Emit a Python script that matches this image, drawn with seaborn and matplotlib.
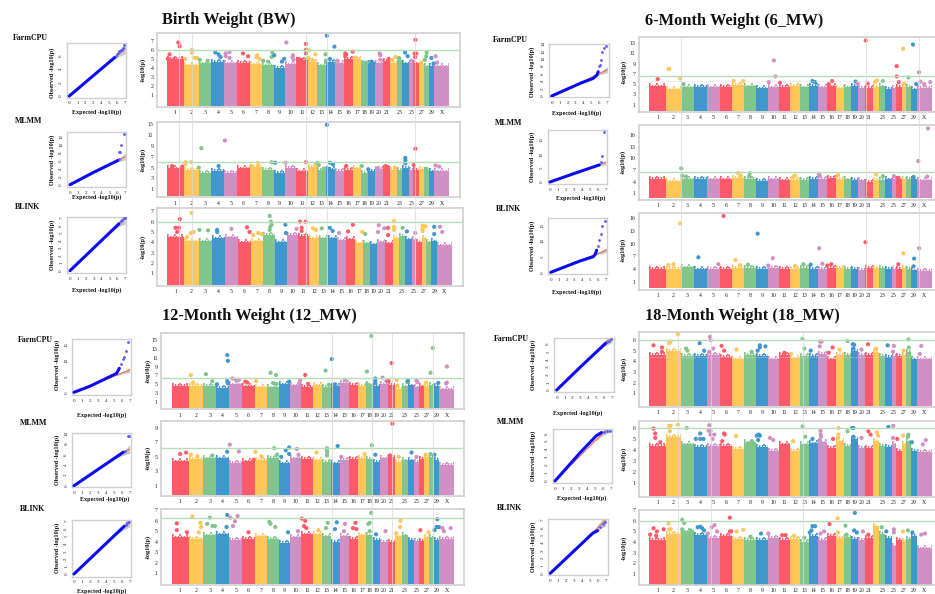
import pandas as pd
import matplotlib
matplotlib.use('Agg')
import matplotlib.pyplot as plt
import seaborn as sns

W, H = 935, 594

# chromosome lengths, Mb, 29 autosomes + X
chrom_size = [158,137,121,120,121,119,112,113,105,103,106,91,84,84,85,81,75,66,64,72,71,61,52,62,42,51,45,46,51,139]
chrom_name = ['1','2','3','4','5','6','7','8','9','10','11','12','13','14','15','16','17','18','19','20','21','','23','','25','','27','','29','X']
chrom_cols = ['#ff5a69', '#ffc658', '#80c68c', '#4096cd', '#d28fc3']

# solid height of the SNP cloud per chromosome
bw_farm_top = [5.0,4.3,4.5,4.7,4.5,4.6,4.4,4.3,4.0,4.4,4.9,4.7,4.3,4.7,4.5,5.0,5.0,4.5,4.5,4.5,4.8,4.6,4.9,4.5,4.6,4.5,4.4,4.2,4.2,4.2]
bw_mlmm_top = [4.9,4.6,4.0,4.4,4.1,4.9,5.2,4.6,4.1,5.0,4.3,5.2,4.6,4.7,4.4,4.6,4.9,4.0,4.4,4.8,5.0,4.6,4.6,5.0,4.6,4.6,4.8,4.6,4.3,4.3]
bw_blink_top = [4.5,4.1,4.1,4.4,4.5,4.0,4.1,4.7,4.0,4.7,4.6,4.4,4.4,4.4,4.2,4.3,3.9,3.9,3.8,4.0,3.9,4.4,4.6,4.3,4.3,4.0,4.4,4.0,4.1,3.7]
m6_farm_top = [4.6,4.0,4.4,4.5,4.4,4.5,4.9,4.6,4.2,4.4,4.5,4.7,4.4,4.7,4.4,4.6,4.2,4.4,4.7,4.3,4.3,4.5,4.6,4.1,4.2,4.5,4.5,4.5,4.0,4.3]
m6_mlmm_top = [4.7,4.1,4.6,4.7,4.6,4.6,5.0,4.8,4.2,4.6,4.3,4.5,4.5,4.7,4.7,5.0,4.8,4.6,4.5,4.3,4.0,4.5,4.4,4.6,4.7,4.6,4.7,4.7,4.6,4.3]
m6_blink_top = [4.2,4.2,4.5,4.0,4.2,4.2,4.4,4.4,4.1,4.4,4.1,4.0,4.3,4.1,4.2,4.4,4.3,4.2,4.1,3.9,4.4,4.3,4.3,4.1,4.0,4.1,4.4,4.2,3.8,3.7]
m12_farm_top = [4.6,4.6,4.7,4.2,5.0,4.5,4.3,4.3,5.0,4.8,4.4,4.8,4.4,4.5,5.3,4.9,4.7,5.0,4.7,5.0,4.9,4.0,4.5,4.8,4.3,4.5,4.6,4.8,4.6,3.9]
m12_mlmm_top = [4.4,4.7,4.8,4.8,4.2,4.4,4.6,4.9,4.1,4.8,4.7,4.5,4.3,4.1,4.6,4.7,4.9,4.7,4.3,4.8,5.0,4.3,4.5,4.5,4.3,4.7,5.0,5.0,4.6,3.9]
m12_blink_top = [4.4,4.3,4.6,4.7,4.2,4.3,4.5,4.3,3.9,4.4,4.7,4.7,4.5,4.0,4.5,4.3,4.6,4.6,4.2,4.0,4.0,4.5,4.6,4.2,4.1,4.1,4.4,4.4,4.2,4.3]
m18_farm_top = [4.6,5.0,4.5,4.5,4.6,4.4,4.2,4.6,4.5,4.2,4.6,4.3,4.5,4.5,4.7,4.2,4.6,4.6,5.0,4.6,4.6,4.9,4.5,4.4,4.5,4.5,4.6,4.9,4.2,4.2]
m18_mlmm_top = [4.4,5.2,4.5,4.3,4.4,4.4,4.1,4.7,4.3,3.9,4.5,3.9,4.5,4.6,4.7,4.2,4.8,4.4,5.0,4.2,4.2,4.8,4.4,4.3,4.5,3.9,4.5,4.8,3.9,3.8]
m18_blink_top = [4.2,4.8,5.0,4.7,4.4,4.6,4.3,4.2,4.2,4.4,4.2,4.3,4.0,4.6,4.2,4.6,4.4,4.5,4.3,4.2,4.4,5.5,4.8,4.4,3.6,4.2,4.1,4.3,4.6,3.4]

# single SNPs above the cloud: (chromosome, place along it, -log10 p)
bw_farm_hits = [(1,.67,6.8),(1,.75,6.4),(1,.15,5.5),(1,.05,5.0),(1,.4,4.9),(2,.55,6.0),(2,.55,5.7),(2,.75,5.1),(2,.1,5.0),(2,.9,5.1),(3,.1,4.9),(3,.7,4.8),(4,.3,5.7),(4,.55,5.5),(4,.7,5.2),(5,.1,5.6),(5,.1,5.3),(5,.4,5.75),(5,.4,5.1),(6,.45,5.6),(6,.85,5.3),(7,.6,5.4),(7,.55,5.2),(7,.8,5.0),(8,.1,4.8),(8,.5,4.7),(8,.85,5.7),(8,.8,5.2),(9,.02,5.4),(9,.9,5.0),(9,.7,4.7),(10,.1,6.8),(10,.7,5.4),(10,.65,5.2),(10,.75,4.9),(11,.85,6.65),(11,.85,6.0),(11,.85,5.6),(11,.2,5.0),(11,.4,4.9),(12,.15,5.95),(12,.8,5.5),(12,.1,5.1),(12,.5,4.9),(13,.9,5.5),(13,.95,4.8),(14,.05,7.55),(14,.9,6.35),(14,.4,5.0),(15,.25,4.8),(16,.1,5.6),(16,.2,5.5),(16,.1,5.3),(16,.95,5.8),(17,.4,5.1),(18,.3,4.6),(18,.8,4.6),(19,.5,4.7),(19,.8,4.5),(20,.6,5.6),(20,.7,5.4),(20,.7,4.9),(21,.8,5.0),(22,.8,5.2),(22,.3,4.9),(23,.4,5.1),(24,.4,5.7),(24,.8,5.3),(25,.6,4.8),(26,.35,7.1),(26,.2,5.6),(26,.5,5.6),(26,.3,5.2),(27,.5,4.6),(28,.2,4.9),(28,.6,5.7),(28,.5,5.3),(29,.5,5.1),(29,.9,4.5),(30,.1,5.3),(30,.2,4.6)]
bw_mlmm_hits = [(3,.22,8.6),(5,.05,10.0),(14,.05,12.9),(26,.35,8.5),(24,.45,6.8),(24,.45,6.3),(24,.45,5.8),(1,.3,5.3),(1,.9,5.2),(2,.1,6.0),(2,.5,6.0),(2,.1,5.6),(3,.02,5.0),(4,.55,5.3),(7,.1,5.3),(7,.65,5.9),(7,.7,5.3),(8,.8,6.0),(9,.1,5.9),(10,.02,5.9),(11,.85,6.0),(12,.8,5.5),(13,.02,5.9),(13,.15,5.5),(13,.7,4.8),(14,.4,5.9),(14,.75,5.6),(14,.3,4.8),(16,.2,5.3),(18,.1,5.3),(19,.02,4.7),(20,.4,4.9),(21,.4,5.3),(21,.7,5.1),(22,.7,5.0),(26,.05,5.5),(30,.1,5.4),(30,.35,5.2),(28,.5,4.8)]
bw_blink_hits = [(1,.75,6.25),(1,.5,5.4),(1,.7,5.4),(1,.6,5.0),(2,.5,6.85),(2,.45,4.9),(2,.65,5.0),(2,.2,4.5),(3,.05,5.2),(3,.7,5.15),(4,.4,5.2),(4,.4,5.0),(5,.5,5.3),(6,.7,5.45),(6,.9,5.0),(7,.2,4.7),(7,.6,4.9),(7,.9,4.8),(8,.55,6.55),(8,.65,6.0),(8,.6,5.5),(8,.55,5.2),(8,.7,5.7),(9,.9,5.7),(9,.95,4.9),(10,.9,5.3),(11,.2,6.0),(11,.7,6.0),(11,.35,5.4),(11,.35,5.1),(12,.4,5.35),(12,.7,5.2),(13,.3,5.35),(14,.2,5.4),(14,.5,5.1),(15,.2,4.9),(16,.2,5.05),(16,.75,5.7),(17,.9,5.0),(18,.3,4.8),(20,.2,5.65),(20,.1,5.0),(20,.9,5.35),(21,.4,5.4),(21,.4,4.7),(22,.2,6.05),(22,.2,5.5),(22,.2,5.2),(23,.6,5.4),(24,.3,5.05),(25,.8,4.9),(27,.2,5.6),(27,.2,5.3),(27,.2,5.1),(27,.8,5.55),(29,.5,4.8),(29,.5,5.5),(30,.2,5.5),(30,.35,5.0)]
m6_farm_hits = [(1,.5,6.0),(2,.15,7.95),(2,.2,7.95),(2,.95,6.1),(3,.2,5.0),(7,.1,5.6),(7,.9,5.6),(10,.1,5.4),(10,.55,9.6),(10,.7,6.5),(11,.1,5.3),(14,.4,5.6),(14,.7,5.4),(16,.2,5.0),(16,.6,5.6),(19,.7,5.5),(20,.02,5.1),(21,.05,13.5),(21,.3,5.1),(22,.3,5.4),(22,.6,5.7),(23,.6,5.6),(26,.1,8.5),(26,.1,6.5),(26,.5,5.4),(27,.3,11.9),(28,.4,6.3),(27,.6,5.1),(29,.3,12.7),(29,.9,5.0),(30,.15,7.3),(30,.25,5.5),(30,.5,5.0),(30,.9,5.4)]
m6_mlmm_hits = [(3,.02,7.4),(3,.1,5.5),(3,.4,5.3),(7,.5,6.2),(7,.7,5.5),(8,.45,6.2),(8,.4,5.5),(12,.5,5.6),(12,.3,5.2),(15,.1,6.0),(15,.2,5.5),(17,.3,5.7),(22,.5,5.9),(23,.6,5.4),(25,.5,5.4),(26,.4,5.0),(29,.4,5.2),(30,.1,9.3),(30,.75,17.7),(30,.7,5.3)]
m6_blink_hits = [(2,.15,5.0),(2,.5,5.2),(2,.95,14.7),(4,.35,6.8),(5,.9,5.2),(6,.3,16.4),(7,.25,6.2),(7,.65,5.0),(8,.3,5.1),(9,.1,12.3),(10,.05,4.9),(10,.45,6.6),(12,.5,4.8),(13,.4,5.2),(14,.2,5.1),(15,.15,8.9),(15,.5,5.3),(16,.05,4.9),(16,.5,5.2),(21,.02,10.3),(26,.4,5.2),(27,.35,7.7),(29,.5,6.5),(29,.4,4.7),(30,.15,8.9)]
m12_farm_hits = [(2,.15,7.1),(2,.3,5.4),(3,.2,7.3),(3,.7,5.7),(4,.05,5.0),(4,.85,11.6),(4,.9,10.3),(4,.85,5.7),(4,.9,5.2),(5,.25,6.3),(5,.5,6.0),(5,.75,6.0),(6,.25,5.6),(6,.4,5.4),(7,.1,5.7),(8,.3,7.6),(8,.75,7.1),(8,.5,5.3),(8,.8,5.1),(9,.9,5.6),(10,.9,5.9),(10,.85,5.2),(11,.35,7.1),(11,.6,5.1),(13,.35,8.1),(13,.7,4.9),(14,.05,10.7),(14,.4,5.0),(15,.5,6.0),(18,.1,7.9),(18,.1,5.0),(18,.75,15.9),(19,.3,6.3),(19,.3,5.8),(19,.3,5.3),(20,.3,6.5),(20,.8,5.7),(21,.5,9.8),(21,.1,5.7),(22,.2,6.0),(22,.3,4.7),(23,.9,5.5),(24,.05,5.8),(25,.5,5.8),(25,.7,5.5),(27,.4,5.4),(28,.3,7.6),(28,.75,13.2),(29,.8,5.3),(30,.5,9.0),(30,.5,5.4),(30,.45,5.2)]
m12_mlmm_hits = [(1,.5,5.4),(1,.85,5.6),(2,.15,5.3),(2,.6,5.1),(3,.7,5.2),(4,.85,5.7),(5,.05,6.7),(5,.75,5.75),(6,.9,4.6),(7,.05,5.7),(7,.55,5.1),(8,.6,6.2),(8,.85,5.3),(9,.6,5.9),(9,.2,5.0),(9,.9,6.3),(9,.9,5.4),(10,.6,6.1),(10,.75,5.3),(12,.4,5.6),(13,.5,6.2),(13,.5,5.9),(13,.55,5.6),(13,.5,5.2),(14,.7,6.5),(15,.1,5.0),(17,.8,5.4),(18,.8,6.6),(19,.3,5.3),(21,.6,9.6),(21,.3,5.2),(22,.5,5.0),(24,.6,5.6),(25,.5,5.0),(27,.3,5.3),(28,.3,5.4),(29,.1,5.3)]
m12_blink_hits = [(1,.3,5.75),(1,.3,5.1),(1,.9,4.9),(2,.25,6.4),(2,.8,5.8),(2,.85,5.4),(2,.7,4.9),(3,.5,6.3),(3,.3,5.7),(3,.7,5.5),(3,.9,5.5),(4,.85,6.55),(4,.8,5.4),(5,.1,6.3),(5,.65,6.45),(5,.45,5.95),(5,.3,5.5),(6,.5,4.9),(8,.2,5.9),(8,.3,5.7),(8,.7,5.4),(9,.8,4.9),(10,.7,5.0),(11,.05,6.2),(11,.35,6.0),(11,.25,5.5),(11,.45,5.3),(12,.6,5.1),(13,.6,5.8),(13,.4,5.3),(14,.6,5.85),(14,.4,5.2),(15,.5,5.7),(15,.4,5.0),(16,.4,5.3),(16,.7,5.8),(16,.8,5.2),(18,.3,5.7),(18,.5,5.8),(18,.7,6.75),(18,.5,5.0),(19,.4,4.7),(20,.7,5.0),(22,.75,6.0),(22,.7,5.4),(22,.1,4.8),(26,.3,5.1),(27,.9,4.9),(29,.1,5.1),(29,.6,6.15),(29,.5,5.4),(29,.9,5.4),(30,.2,5.3),(30,.3,5.0),(30,.75,5.3)]
m18_farm_hits = [(1,.25,5.5),(1,.75,5.3),(1,.75,4.9),(2,.3,5.85),(2,.2,5.7),(2,.8,6.55),(3,.4,5.2),(3,.5,5.0),(4,.45,5.7),(4,.8,5.0),(5,.25,6.3),(5,.3,6.0),(5,.5,5.2),(5,.2,4.9),(6,.15,5.45),(6,.35,5.0),(7,.35,5.1),(8,.6,4.9),(9,.3,5.5),(9,.3,5.3),(9,.8,5.4),(9,.1,5.0),(11,.5,4.8),(12,.1,4.7),(13,.3,6.1),(13,.5,5.2),(14,.2,5.0),(15,.25,5.85),(15,.4,5.85),(15,.2,5.4),(16,.2,4.8),(16,.65,5.3),(17,.5,5.1),(18,.55,5.9),(19,.3,5.6),(19,.5,5.55),(19,.4,5.2),(20,.5,5.1),(21,.35,5.6),(22,.5,5.2),(24,.4,5.5),(25,.5,5.45),(25,.3,4.9),(27,.4,5.0),(28,.4,6.05),(28,.5,5.3),(30,.3,5.45),(30,.2,4.7)]
m18_mlmm_hits = [(1,.25,5.95),(1,.35,5.5),(1,.35,5.1),(1,.65,4.7),(2,.2,6.2),(2,.3,6.2),(2,.25,5.7),(2,.8,6.3),(3,.45,6.0),(4,.5,5.5),(4,.15,5.0),(4,.5,5.0),(4,.75,5.0),(5,.2,6.25),(5,.15,5.75),(5,.3,5.75),(5,.3,5.4),(5,.6,5.4),(5,.45,5.0),(6,.4,5.4),(6,.35,5.5),(6,.2,4.8),(7,.3,5.25),(8,.6,4.8),(9,.02,5.3),(9,.2,5.4),(9,.3,5.3),(9,.15,4.9),(10,.2,5.1),(10,.5,4.9),(12,.3,4.8),(13,.3,6.15),(13,.6,5.2),(14,.4,5.0),(15,.3,5.75),(15,.3,5.4),(15,.35,5.2),(15,.2,4.9),(16,.7,5.0),(17,.35,6.0),(17,.35,5.4),(17,.3,5.1),(18,.55,5.7),(19,.2,6.0),(19,.4,6.0),(19,.4,5.2),(20,.5,5.1),(21,.4,5.7),(21,.7,5.4),(22,.6,5.6),(22,.8,5.3),(24,.5,6.1),(25,.35,6.2),(25,.3,5.1),(26,.2,5.0),(27,.3,5.3),(28,.4,5.4),(28,.3,5.2),(29,.1,4.7),(30,.6,4.9),(30,.4,4.5)]
m18_blink_hits = [(1,.25,5.3),(1,.05,4.7),(1,.45,5.0),(1,.85,5.2),(1,.4,4.6),(2,.15,5.75),(2,.2,5.2),(2,.3,5.2),(2,.8,4.6),(3,.1,6.1),(3,.25,5.8),(3,.1,5.2),(3,.75,5.1),(4,.3,5.4),(4,.5,5.45),(4,.65,5.3),(4,.8,5.1),(5,.6,5.6),(5,.8,5.0),(5,.4,5.4),(5,.1,4.8),(6,.8,6.3),(6,.8,5.0),(6,.9,5.0),(7,.35,5.0),(7,.9,5.15),(8,.5,4.5),(9,.4,4.8),(10,.05,4.8),(11,.3,4.65),(11,.6,4.65),(12,.4,4.6),(13,.5,4.4),(14,.1,4.9),(14,.4,5.5),(14,.7,5.5),(14,.3,5.1),(15,.3,4.8),(15,.7,5.0),(16,.3,5.7),(17,.25,6.25),(17,.3,4.9),(18,.25,5.55),(18,.4,4.7),(19,.6,6.75),(19,.5,5.1),(19,.9,4.9),(20,.7,5.0),(21,.4,4.7),(22,.3,4.9),(23,.4,5.4),(24,.2,5.0),(25,.5,4.9),(25,.5,5.2),(27,.3,5.0),(28,.3,5.1),(29,.2,4.9),(30,.3,4.7),(30,.55,4.8)]

# QQ curves: main line knots and the sparse tail, (expected, observed)
bw_farm_qq = [(0,0),(2,2),(4,4),(5.7,5.7)]
bw_farm_tail = [(5.8,5.9),(6,6.2),(6.1,6.4),(6.2,6.6),(6.3,6.7),(6.5,6.75),(6.6,6.8),(6.7,7.1),(6.85,7.5)]
bw_mlmm_qq = [(0,0),(3,3.1),(6.1,6.1)]
bw_mlmm_tail = [(6.2,6.5),(6.3,8.25),(6.15,8.2),(6.5,9.9),(6.8,12.7)]
bw_blink_qq = [(0,0),(6.2,6.2)]
bw_blink_tail = [(6.4,6.5),(6.6,6.7),(6.8,6.9),(6.9,7)]
m6_farm_qq = [(0,0),(3.6,3.4),(5.2,4.7),(5.7,5.6),(5.85,6.5)]
m6_farm_tail = [(5.98,7.9),(6.1,8.2),(6.2,9.6),(6.36,11.9),(6.6,12.8),(6.8,13.5)]
m6_mlmm_qq = [(0,0),(3,3),(6.2,6.1)]
m6_mlmm_tail = [(6.35,7),(6.5,9.3),(6.78,18)]
m6_blink_qq = [(0,0),(3.7,3.6),(5.35,4.95),(5.55,5.5),(5.8,7)]
m6_blink_tail = [(6,8.4),(6.1,10.2),(6.3,12.3),(6.5,14.7),(6.8,16.3)]
m12_farm_qq = [(0,0),(2,1.9),(4.1,4.4),(5.35,5.9),(5.7,7.5)]
m12_farm_tail = [(5.85,9),(6.1,10.3),(6.3,10.9),(6.5,13),(6.8,15.8)]
m12_mlmm_qq = [(0,0),(3,3.1),(6.2,6.4)]
m12_mlmm_tail = [(6.4,6.6),(6.75,9.5),(6.85,9.5)]
m12_blink_qq = [(0,0),(6.3,6.3)]
m12_blink_tail = [(6.5,6.5),(6.7,6.7),(6.9,6.9)]
m18_farm_qq = [(0,0),(3,3),(6.2,6.1)]
m18_farm_tail = [(6.4,6.3),(6.6,6.4),(6.9,6.6)]
m18_mlmm_qq = [(0,0),(3.1,3.5),(5.2,5.7),(5.85,6.1)]
m18_mlmm_tail = [(6.2,6.2),(6.5,6.25),(6.9,6.3)]
m18_blink_qq = [(0,0),(5.4,5.3),(6,5.6)]
m18_blink_tail = [(6.3,6.1),(6.6,6.5),(6.9,6.8)]

# expected-line confidence band
cone_exp = [5.0, 6.0, 7.0]
cone_lo = [5.0, 5.7, 6.2]
cone_hi = [5.0, 6.3, 7.8]

# vertical marker SNPs shared by a trait: (chromosome, place along it)
bw_marks = [(1,.73),(2,.55),(11,.84),(14,.03),(26,.25)]
m6_marks = [(3,.03),(21,.05),(30,.17)]
m12_marks = [(14,.05),(18,.75),(21,.55),(28,.75)]
m18_marks = [(2,.8),(5,.36),(13,.39)]

sns.set_theme(style='white')
plt.rcParams['font.family'] = ['Liberation Serif', 'DejaVu Serif']

fig = plt.figure(figsize=(W / 100, H / 100), dpi=100)


def px_axes(l, t, r, b):
    return fig.add_axes([l / W, 1 - b / H, (r - l) / W, (b - t) / H])


def ftext(x, y, s, size, **kw):
    fig.text(x / W, 1 - y / H, s, fontsize=size, fontweight='bold', color='#111111',
             ha=kw.pop('ha', 'center'), va='center', **kw)


def style_frame(ax, col='#cfcfcf', lw=1.2):
    for sp in ax.spines.values():
        sp.set_visible(True)
        sp.set_color(col)
        sp.set_linewidth(lw)


def genome_pos(chrom, frac):
    return sum(chrom_size[:chrom - 1]) + frac * chrom_size[chrom - 1]


def manhattan(top, hits, frame, xpx, y_a, y_b, ticks, base_px, line=6.0, dotted=None):
    l, t, r, b = frame
    ax = px_axes(l, t, r, b)
    total = sum(chrom_size)
    per_px = total / (xpx[1] - xpx[0])
    ax.set_xlim((l - xpx[0]) * per_px, (r - xpx[0]) * per_px)
    per_unit = (y_b[1] - y_a[1]) / (y_a[0] - y_b[0])
    to_val = lambda p: y_b[0] + (y_b[1] - p) / per_unit
    ax.set_ylim(to_val(b), to_val(t))
    base = to_val(base_px)
    left = [sum(chrom_size[:i]) for i in range(30)]
    right = [a + s for a, s in zip(left, chrom_size)]
    cols = [chrom_cols[i % 5] for i in range(30)]
    ax.bar(left, [h - base for h in top], width=chrom_size, bottom=base, align='edge', color=cols, linewidth=0, zorder=2)
    # beaded rows along the top so the cloud edge reads as dots, not a flat bar
    ax.hlines([h + 0.6 / per_unit for h in top], left, right, colors=cols, lw=1.5,
              linestyles=[(0, (0.7, 0.7))], zorder=2)
    ax.hlines([h + 2.0 / per_unit for h in top], left, right, colors=cols, lw=1.5,
              linestyles=[(0, (0.8, 2.6))], zorder=2)
    df = pd.DataFrame(hits, columns=['chrom', 'frac', 'val'])
    df['pos'] = [genome_pos(c, f) for c, f in zip(df['chrom'], df['frac'])]
    df['group'] = (df['chrom'] - 1) % 5
    sns.scatterplot(data=df, x='pos', y='val', hue='group', palette=chrom_cols, legend=False, s=9,
                    linewidth=0, ax=ax, zorder=3)
    if line is not None:
        ax.axhline(line, color='#b4deb6', lw=1.0, zorder=4)
    if dotted is not None:
        ax.axhline(dotted, color='#d8d8d8', lw=0.6, ls=':', zorder=4)
    ax.set_xticks([left[i] + chrom_size[i] / 2 for i in range(30)])
    ax.set_xticklabels(chrom_name)
    ax.set_yticks(ticks)
    ax.set_yticklabels([str(v) for v in ticks])
    ax.tick_params(axis='x', length=1, width=0.4, color='#999999', labelsize=4.2, pad=1.5, labelcolor='#222222')
    ax.tick_params(axis='y', length=0, labelsize=4.2, pad=2.5, labelcolor='#222222')
    ax.set_xlabel('')
    ax.set_ylabel('')
    style_frame(ax)
    return ax


def qq(knots, tail, frame, x0, x7, y_a, y_b, ticks):
    l, t, r, b = frame
    ax = px_axes(l, t, r, b)
    ppx = (x7 - x0) / 7
    ax.set_xlim((l - x0) / ppx, (r - x0) / ppx)
    per_unit = (y_b[1] - y_a[1]) / (y_a[0] - y_b[0])
    to_val = lambda p: y_b[0] + (y_b[1] - p) / per_unit
    ax.set_ylim(to_val(b), to_val(t))
    ax.fill_between(cone_exp, cone_lo, cone_hi, color='#c9c9c9', lw=0, zorder=1)
    sns.lineplot(x=[0, 7], y=[0, 7], color='#ef6a5e', lw=0.8, ax=ax, zorder=2)
    kn = pd.DataFrame(knots, columns=['e', 'o'])
    sns.lineplot(data=kn, x='e', y='o', color='#0a0af5', lw=2.2, ax=ax, zorder=3, sort=False, solid_capstyle='round')
    tl = pd.DataFrame(tail, columns=['e', 'o'])
    sns.scatterplot(data=tl, x='e', y='o', color='#5a5af5', s=4, linewidth=0, ax=ax, zorder=4)
    ax.set_xticks(range(8))
    ax.set_yticks(ticks)
    ax.tick_params(length=1.5, width=0.4, color='#777777', labelsize=3.6, pad=1.2, labelcolor='#222222')
    plt.setp(ax.get_yticklabels(), rotation=90, va='center')
    ax.set_xlabel('')
    ax.set_ylabel('')
    style_frame(ax, lw=1.0)
    return ax


def marks(spots, top_px, bottom_px, xpx):
    ax = px_axes(xpx[0], top_px, xpx[1], bottom_px)
    ax.set_xlim(0, sum(chrom_size))
    ax.axis('off')
    ax.patch.set_alpha(0)
    ax.set_zorder(10)
    for c, f in spots:
        ax.axvline(genome_pos(c, f), color='#d9d9d9', lw=0.8, alpha=0.7)


# Birth weight
bw_x = (167, 449)
manhattan(bw_farm_top, bw_farm_hits, (157, 33, 460, 107), bw_x, (7, 40.7), (1, 95.3), [1,2,3,4,5,6,7], 106)
manhattan(bw_mlmm_top, bw_mlmm_hits, (157, 121.7, 460, 197.3), bw_x, (13, 124.3), (1, 189.3), [3,5,7,9,11,13,1], 196)
manhattan(bw_blink_top, bw_blink_hits, (157, 208, 463, 286), (167, 452), (7, 211.3), (1, 273.3), [1,2,3,4,5,6,7], 285)
qq(bw_farm_qq, bw_farm_tail, (67, 43.3, 126.3, 97.7), 69.3, 125.3, (6, 55.3), (0, 96), [0,2,4,6])
qq(bw_mlmm_qq, bw_mlmm_tail, (67, 132.3, 126, 187.3), 70, 125.3, (12, 136.7), (0, 184.7), [0,2,4,6,8,10,12])
qq(bw_blink_qq, bw_blink_tail, (67, 217.3, 126, 273.3), 70, 125.3, (7, 217.7), (0, 270.7), [0,1,2,3,4,5,6,7])
marks(bw_marks, 33, 286, bw_x)

# 6-month weight
m6_x = (649.3, 931.7)
manhattan(m6_farm_top, m6_farm_hits, (639, 37.3, 936, 111.7), m6_x, (13, 43), (1, 104.7), [1,3,5,7,9,11,13], 111, line=6.5, dotted=5.55)
manhattan(m6_mlmm_top, m6_mlmm_hits, (639, 125, 936, 200), m6_x, (16, 135), (1, 193.3), [1,4,7,10,13,16], 198, line=6.4)
manhattan(m6_blink_top, m6_blink_hits, (639, 213.3, 936, 290), m6_x, (16, 217.7), (1, 282.3), [1,4,7,10,13,16], 288, line=None)
qq(m6_farm_qq, m6_farm_tail, (549, 43.7, 608.7, 97.3), 551.7, 607.3, (14, 43.7), (0, 96), [0,2,4,6,8,10,12,14])
qq(m6_mlmm_qq, m6_mlmm_tail, (547.7, 130, 606.7, 184), 550, 605.7, (15, 140), (0, 182), [0,5,10,15])
qq(m6_blink_qq, m6_blink_tail, (548.3, 218.3, 607, 274), 550.7, 606.3, (15, 225), (0, 272.3), [0,5,10,15])
marks(m6_marks, 37, 290, m6_x)

# 12-month weight
m12_x = (171.7, 454.3)
manhattan(m12_farm_top, m12_farm_hits, (161.3, 333.3, 464.3, 409.3), m12_x, (15, 340), (1, 402), [1,3,5,7,9,11,13,15], 407.7, line=6.35)
manhattan(m12_mlmm_top, m12_mlmm_hits, (161.3, 420.7, 464.3, 495.7), m12_x, (9, 428), (1, 485.7), [1,3,5,7,9], 495, line=6.2)
manhattan(m12_blink_top, m12_blink_hits, (161.3, 509.3, 464.3, 585), m12_x, (7, 510.3), (1, 573), [1,2,3,4,5,6,7], 584, line=6.3)
qq(m12_farm_qq, m12_farm_tail, (72, 339.3, 131, 395), 74, 129.7, (15, 344.3), (0, 392.3), [0,5,10,15])
qq(m12_mlmm_qq, m12_mlmm_tail, (72, 433.3, 131, 487.3), 74, 129.7, (10, 432.3), (0, 485.7), [0,2,4,6,8,10])
qq(m12_blink_qq, m12_blink_tail, (72, 520, 131, 576.7), 74, 129.7, (7, 521), (0, 574), [0,1,2,3,4,5,6,7])
marks(m12_marks, 333, 585, m12_x)

# 18-month weight
manhattan(m18_farm_top, m18_farm_hits, (639.3, 331.7, 936, 406.7), m6_x, (6, 340), (1, 393.3), [1,2,3,4,5,6], 405.7, dotted=4.4)
manhattan(m18_mlmm_top, m18_mlmm_hits, (639.3, 421, 936, 497), m6_x, (6, 428), (1, 482.7), [1,2,3,4,5,6], 496)
manhattan(m18_blink_top, m18_blink_hits, (639.3, 510, 936, 585), m6_x, (7, 510.3), (1, 573.7), [1,2,3,4,5,6,7], 584.5)
qq(m18_farm_qq, m18_farm_tail, (554, 338.3, 613.7, 392.3), 556.7, 612, (6, 344), (0, 390), [0,1,2,3,4,5,6])
qq(m18_mlmm_qq, m18_mlmm_tail, (552.7, 429, 611.7, 483.3), 555, 610.7, (6, 433.3), (0, 481), [0,1,2,3,4,5,6])
qq(m18_blink_qq, m18_blink_tail, (548.3, 519.3, 607.7, 575), 550.3, 605.7, (7, 520), (0, 573.3), [0,1,2,3,4,5,6,7])
marks(m18_marks, 332, 585, m6_x)

# titles and method names
ftext(162, 20, 'Birth Weight (BW)', 11.8, ha='left')
ftext(645, 21, '6-Month Weight (6_MW)', 11.8, ha='left')
ftext(162, 316, '12-Month Weight (12_MW)', 11.8, ha='left')
ftext(645, 316, '18-Month Weight (18_MW)', 11.8, ha='left')

for x, y, s in [(13, 38, 'FarmCPU'), (15, 121, 'MLMM'), (15, 207, 'BLINK'),
                (493, 40, 'FarmCPU'), (495, 123.3, 'MLMM'), (495.7, 208.7, 'BLINK'),
                (18, 340, 'FarmCPU'), (20, 423, 'MLMM'), (20, 509, 'BLINK'),
                (494, 339, 'FarmCPU'), (496.7, 422, 'MLMM'), (496.7, 508, 'BLINK')]:
    ftext(x, y, s, 5.7, ha='left')

# manhattan y labels
for x, y in [(143, 70), (143, 160), (143, 247), (624, 72), (623, 162), (623, 250),
             (148.3, 371), (148.3, 458), (148.3, 547), (624, 369), (624, 459), (624, 548)]:
    ftext(x, y, '-log10(p)', 4.5, rotation=90)

# qq y labels
for x, y in [(52, 73), (52, 160), (52, 245), (532.3, 72), (532.3, 157), (532.3, 246),
             (56.7, 365), (56.7, 460), (56.7, 548), (533, 365), (533, 456), (532.7, 547)]:
    ftext(x, y, 'Observed -log10(p)', 4.4, rotation=90)

# qq x labels
for x, y in [(97, 111.7), (97, 197), (97, 290), (577, 113), (581, 198), (577, 291.7),
             (101.7, 414.7), (105, 499), (101.7, 591), (577.7, 413), (581.7, 498)]:
    ftext(x, y, 'Expected -log10(p)', 4.4)

fig.savefig('out.png', dpi=100, facecolor='white')
